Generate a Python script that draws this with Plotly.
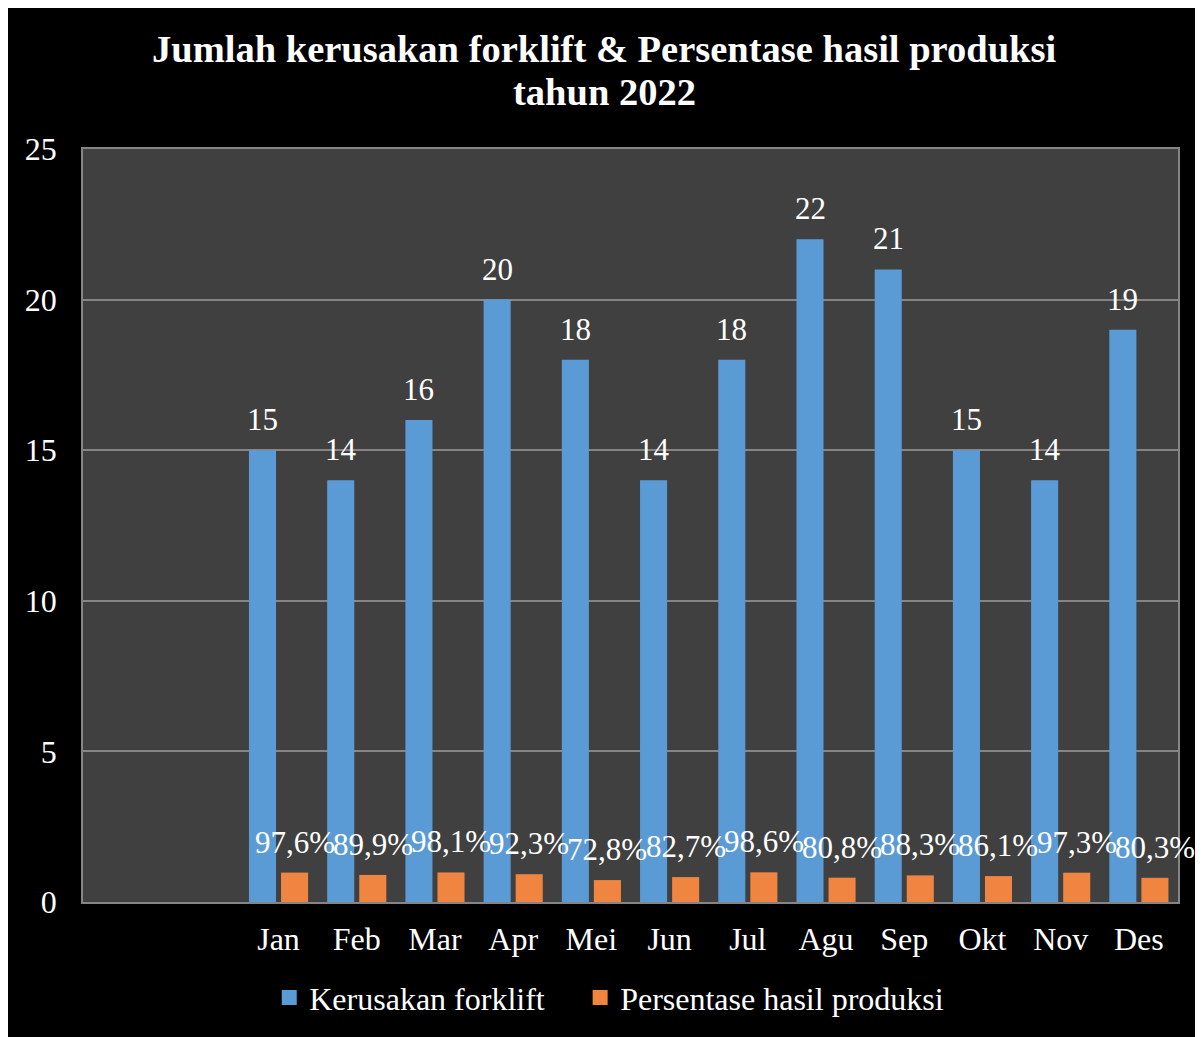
import plotly.graph_objects as go

months = ["Jan", "Feb", "Mar", "Apr", "Mei", "Jun", "Jul", "Agu", "Sep", "Okt", "Nov", "Des"]
kerusakan = [15, 14, 16, 20, 18, 14, 18, 22, 21, 15, 14, 19]
persentase = [0.976, 0.899, 0.981, 0.923, 0.728, 0.827, 0.986, 0.808, 0.883, 0.861, 0.973, 0.803]
y_ticks = [0, 5, 10, 15, 20, 25]
series_names = ["Kerusakan forklift", "Persentase hasil produksi"]

FONT = "Liberation Serif, Times New Roman, serif"
BLUE = "#5b9bd5"
ORANGE = "#ef8540"

fig = go.Figure()
fig.add_trace(go.Bar(x=months, y=kerusakan, name=series_names[0], showlegend=False,
                     marker=dict(color=BLUE, line=dict(width=0))))
fig.add_trace(go.Bar(x=months, y=persentase, name=series_names[1], showlegend=False,
                     marker=dict(color=ORANGE, line=dict(width=0))))
# legend entries with larger square symbols (first name padded for the wider gap)
legend_labels = [series_names[0] + "\u00a0\u00a0\u00a0\u2009", series_names[1]]
for nm, col in zip(legend_labels, [BLUE, ORANGE]):
    fig.add_trace(go.Scatter(x=[None], y=[None], mode="markers", name=nm,
                             marker=dict(symbol="square", size=15, color=col)))

ann = []
for m, v in zip(months, kerusakan):
    ann.append(dict(x=m, y=v, xref="x", yref="y", text=str(v), showarrow=False,
                    xshift=-16, yshift=11, yanchor="bottom",
                    font=dict(family=FONT, size=31, color="white")))
for m, v in zip(months, persentase):
    t = f"{v*100:.1f}%".replace(".", ",")
    ann.append(dict(x=m, y=v, xref="x", yref="y", text=t, showarrow=False,
                    xshift=16, yshift=11, yanchor="bottom",
                    font=dict(family=FONT, size=31, color="white")))
ann.append(dict(x=0.476, y=1.1328, xref="paper", yref="paper", showarrow=False,
                text="<b>Jumlah kerusakan forklift & Persentase hasil produksi</b>",
                yanchor="middle", xanchor="center",
                font=dict(family=FONT, size=38.5, color="white")))
ann.append(dict(x=0.476, y=1.0757, xref="paper", yref="paper", showarrow=False,
                text="<b>tahun 2022</b>", yanchor="middle", xanchor="center",
                font=dict(family=FONT, size=38.5, color="white")))

fig.update_layout(
    width=1195, height=1029,
    margin=dict(l=75, r=25, t=141, b=135),
    paper_bgcolor="black", plot_bgcolor="#404040",
    barmode="group", bargap=0.18, bargroupgap=0.156,
    font=dict(family=FONT, size=32, color="white"),
    annotations=ann,
    showlegend=True,
    legend=dict(orientation="h", x=0.4806, xanchor="center", y=-0.127, yanchor="middle",
                font=dict(family=FONT, size=32, color="white"),
                bgcolor="rgba(0,0,0,0)", itemwidth=30),
)
fig.update_xaxes(type="category", range=[-2.5, 11.5], showgrid=False,
                 showline=True, linecolor="#858585", linewidth=1.5, mirror=True,
                 ticks="outside", ticklen=8, tickcolor="rgba(0,0,0,0)",
                 tickfont=dict(family=FONT, size=32, color="white"))
fig.update_yaxes(range=[0, 25], tickvals=y_ticks, showgrid=True, gridcolor="#858585",
                 gridwidth=1.5, showline=True, linecolor="#858585", linewidth=1.5, mirror=True,
                 ticks="outside", ticklen=18, tickcolor="rgba(0,0,0,0)", zeroline=False,
                 tickfont=dict(family=FONT, size=32, color="white"))

fig.write_html("out.html")
